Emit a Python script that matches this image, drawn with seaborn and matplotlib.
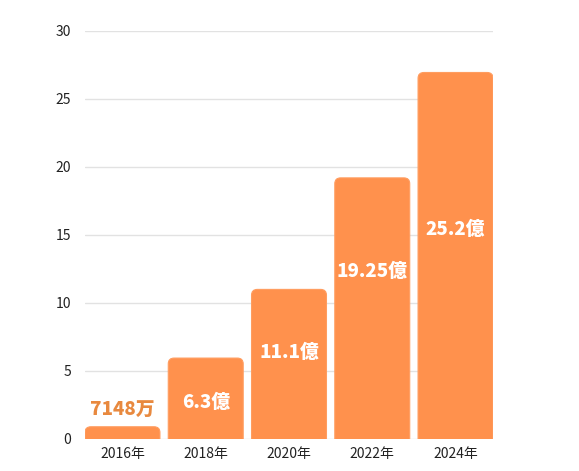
import matplotlib
matplotlib.use('Agg')
import matplotlib.pyplot as plt
from matplotlib.patches import FancyBboxPatch
import seaborn as sns

years = ['2016年', '2018年', '2020年', '2022年', '2024年']
heights = [0.9, 5.95, 11.0, 19.2, 26.95]
value_labels = ['7148万', '6.3億', '11.1億', '19.25億', '25.2億']
label_y = [2.15, 2.7, 6.35, 12.3, 15.4]
label_inside = [False, True, True, True, True]

bar_color = '#ff914d'
label_out_color = '#e8893f'

sns.set_theme(style='white')
plt.rcParams['font.family'] = ['Noto Sans CJK JP', 'DejaVu Sans']

fig = plt.figure(figsize=(5.79, 4.71), dpi=100, facecolor='white')
ax = fig.add_axes([85 / 579, 32 / 471, 408 / 579, 408 / 471])

sns.barplot(x=years, y=heights, color=bar_color, width=0.9, saturation=1, ax=ax)

# swap the plain rectangles for rounded ones
rects = list(ax.patches)
for r in rects:
    x, y, w, h = r.get_x(), r.get_y(), r.get_width(), r.get_height()
    r.remove()
    p = FancyBboxPatch((x, y - 1), w, h + 1,
                       boxstyle='round,pad=0,rounding_size=0.07',
                       mutation_aspect=6.1,
                       facecolor=bar_color, edgecolor='#ff9d60', linewidth=0.8,
                       zorder=2, clip_on=True)
    ax.add_patch(p)

for i, (txt, ly, inside) in enumerate(zip(value_labels, label_y, label_inside)):
    ax.text(i, ly, txt, ha='center', va='center', fontsize=13.5, fontweight='heavy',
            color='white' if inside else label_out_color, zorder=3)

ax.set_xlim(-0.45, 4.45)
ax.set_ylim(0, 30)
ax.set_yticks(range(0, 31, 5))
ax.yaxis.grid(True, color='#e2e2e2', linewidth=1)
ax.set_axisbelow(True)
sns.despine(ax=ax, left=True, bottom=True)
ax.tick_params(axis='both', length=0, labelsize=10, colors='#222222')
ax.tick_params(axis='y', pad=10)
ax.tick_params(axis='x', pad=6)
ax.set_xlabel('')
ax.set_ylabel('')

fig.savefig('out.png', dpi=100, facecolor='white')
